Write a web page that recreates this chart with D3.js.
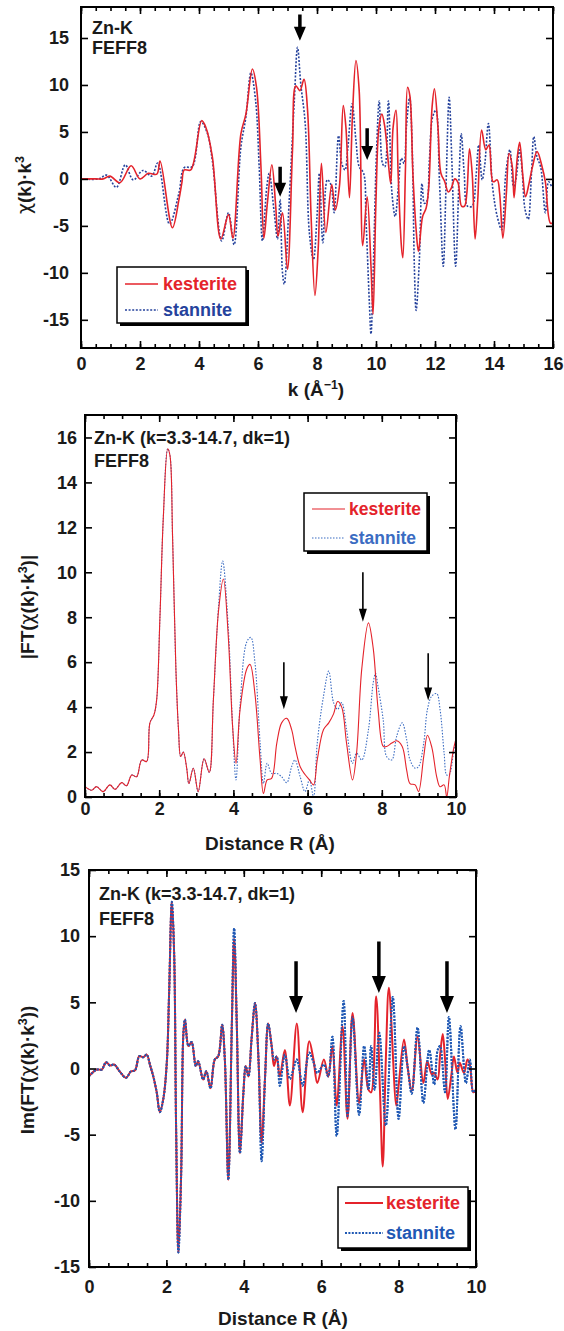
<!DOCTYPE html>
<html>
<head>
<meta charset="utf-8">
<script src="https://cdn.jsdelivr.net/npm/d3@7"></script>
<style>
  body { margin: 0; background: #fff; }
  text { font-family: "Liberation Sans", Arial, Helvetica, sans-serif; font-weight: bold; }
</style>
</head>
<body>
<svg id="fig" width="564" height="1331"></svg>
<script>
// ---- Zn-K EXAFS chi(k)*k^3, FEFF8 (k in 1/Å) ----
const chiKesterite = [[0,0],[0.5,0],[0.75,0],[0.98,0.3],[1.32,-0.4],[1.7,1.4],[2.0,0],[2.28,0.6],[2.57,0.5],[2.68,1.9],[3.1,-5.2],[3.32,-2.2],[3.42,-0.4],[3.5,0.95],[3.72,0.95],[4.09,6.2],[4.23,5.5],[4.45,2.4],[4.74,-6.4],[5.0,-3.8],[5.15,-6.3],[5.42,4.8],[5.59,6.9],[5.81,11.7],[5.95,9.75],[6.1,1.3],[6.2,-6.3],[6.32,-2.5],[6.47,1.5],[6.6,-2.9],[6.68,-6.1],[6.83,-3.6],[7.0,-9.6],[7.17,3.1],[7.28,9.9],[7.42,9.4],[7.56,10.6],[7.68,7.3],[7.8,-4],[7.93,-12.4],[8.04,-7.5],[8.15,1.65],[8.3,-5.7],[8.5,-0.6],[8.62,-3.3],[8.76,-0.8],[8.89,7.8],[8.98,5.5],[9.1,-2],[9.2,6.6],[9.32,12.6],[9.43,9.4],[9.55,-7.1],[9.7,-1.9],[9.83,-9.3],[9.9,-14.4],[10.0,-2.2],[10.1,5.5],[10.2,6.9],[10.3,5.5],[10.42,1.65],[10.5,-0.5],[10.58,5.5],[10.68,7.3],[10.75,0.6],[10.86,-7.1],[10.91,-8.4],[11.0,1.3],[11.07,9.75],[11.15,8.8],[11.25,0.6],[11.36,-5.4],[11.44,-7.7],[11.58,-4],[11.7,-3.1],[11.79,-0.8],[11.9,7.6],[11.98,9.6],[12.1,5.5],[12.2,0.6],[12.33,-0.3],[12.45,-1.4],[12.55,-1],[12.67,0],[12.78,-0.4],[12.9,-2.9],[13.0,-2.9],[13.08,-1.5],[13.17,3.2],[13.26,0.6],[13.36,-6.4],[13.45,-2.2],[13.58,5.2],[13.72,3.1],[13.83,3.6],[13.97,-0.3],[14.11,-0.1],[14.19,-1.5],[14.3,-6.3],[14.42,-1.5],[14.51,2.7],[14.62,1.3],[14.68,-2],[14.79,2.3],[14.87,3.9],[14.98,0.25],[15.07,-1.9],[15.18,-0.6],[15.29,1.1],[15.46,2.9],[15.63,1.3],[15.74,-0.3],[15.91,-4.7],[16,-4.7]];
const chiStannite = [[0,0],[0.6,0],[0.87,0.4],[1.2,-0.9],[1.5,1.5],[1.77,-0.1],[2.1,0.9],[2.4,0.3],[2.6,1.7],[3.0,-4.8],[3.32,-1.5],[3.5,1.2],[3.77,1.3],[4.06,6.1],[4.28,4.9],[4.45,2.0],[4.77,-6.6],[5.0,-3.6],[5.19,-7],[5.42,3.4],[5.59,6.6],[5.76,11.3],[5.92,8.3],[6.04,1.3],[6.15,-6.6],[6.3,-0.8],[6.38,0.6],[6.55,-3.6],[6.66,-6.4],[6.75,-2.2],[6.83,-10],[6.89,-11.2],[7.06,-2.2],[7.23,8.3],[7.34,14],[7.45,10.1],[7.6,5.9],[7.74,-5.7],[7.88,-8.6],[8.0,-4],[8.08,0.6],[8.2,-6.8],[8.35,-0.1],[8.47,-0.6],[8.58,-3.6],[8.73,4.6],[8.84,1.65],[8.95,0.95],[9.04,3.1],[9.19,8.0],[9.32,4.1],[9.43,1.3],[9.58,0.6],[9.66,-4.3],[9.77,-12.8],[9.83,-16.5],[9.91,-9.3],[10.02,3.1],[10.11,8.3],[10.22,1.65],[10.3,1.3],[10.42,8.3],[10.54,-1.5],[10.65,-4],[10.76,-0.8],[10.86,2.2],[10.95,1.65],[11.03,5.5],[11.14,8.7],[11.23,3.0],[11.3,-9.3],[11.36,-14],[11.47,-8.6],[11.56,-0.5],[11.64,-2.6],[11.72,-2.4],[11.81,2.0],[11.92,6.6],[12.03,7.3],[12.15,-0.1],[12.28,-9.3],[12.37,-1.2],[12.48,8.7],[12.57,2.0],[12.7,-9.3],[12.82,0.6],[12.89,4.8],[12.99,0.6],[13.1,-2.9],[13.26,-2.9],[13.39,0.25],[13.48,3.6],[13.6,-0.1],[13.68,1.3],[13.81,5.9],[13.95,-0.8],[14.11,-4],[14.26,-5.4],[14.4,0.6],[14.54,3.1],[14.66,-0.8],[14.74,-0.1],[14.87,3.1],[14.96,0.6],[15.05,-3.2],[15.16,-4.3],[15.27,0.6],[15.35,4.5],[15.46,2.3],[15.58,1.3],[15.74,-3.6],[15.85,-0.3],[15.95,-0.8]];

// ---- |FT| magnitude vs distance R (Å) ----
const ftMagKesterite = [[0,0.46],[0.18,0.3],[0.31,0.46],[0.49,0.24],[0.67,0.54],[0.81,0.34],[0.99,0.64],[1.12,0.5],[1.26,0.98],[1.39,0.9],[1.53,1.65],[1.66,1.58],[1.75,3.3],[1.86,3.66],[1.93,4.3],[2.02,8],[2.11,12.4],[2.23,15.5],[2.29,15.2],[2.36,11.6],[2.45,5.7],[2.52,3.0],[2.58,1.8],[2.65,2.0],[2.74,1.3],[2.8,0.6],[2.92,1.28],[3.05,0.24],[3.21,1.7],[3.35,1.1],[3.46,4.3],[3.6,8.3],[3.73,9.7],[3.86,7.2],[3.98,3.1],[4.07,1.5],[4.18,3.9],[4.36,5.7],[4.45,5.9],[4.58,4.6],[4.72,1.65],[4.81,0.16],[4.91,0.76],[5.03,0.83],[5.17,2.4],[5.3,3.3],[5.44,3.5],[5.57,3.0],[5.66,2.25],[5.8,1.35],[5.93,1.0],[6.05,0.76],[6.16,0.54],[6.26,1.65],[6.43,3.0],[6.57,3.3],[6.7,3.7],[6.81,4.25],[6.92,4.0],[7.05,2.4],[7.21,0.76],[7.32,1.95],[7.46,5.7],[7.64,7.75],[7.77,6.6],[7.9,3.9],[8.04,2.25],[8.13,2.25],[8.27,2.4],[8.4,2.5],[8.55,2.25],[8.67,1.2],[8.76,0.6],[8.9,0.54],[8.99,0.24],[9.13,1.8],[9.23,2.75],[9.35,2.2],[9.48,0.9],[9.57,0.46],[9.68,0.54],[9.75,0],[9.82,0.9],[9.93,2.1],[10,2.6]];
const ftMagStannite = [[0,0.46],[0.18,0.3],[0.31,0.46],[0.49,0.24],[0.67,0.54],[0.81,0.34],[0.99,0.64],[1.12,0.5],[1.26,0.98],[1.39,0.9],[1.53,1.65],[1.66,1.58],[1.75,3.3],[1.86,3.66],[1.93,4.3],[2.02,8],[2.11,12.4],[2.23,15.5],[2.29,15.2],[2.36,11.6],[2.45,5.7],[2.52,3.0],[2.58,1.8],[2.65,2.0],[2.74,1.3],[2.8,0.6],[2.92,1.28],[3.05,0.24],[3.21,1.7],[3.35,1.1],[3.46,4.3],[3.6,8.5],[3.71,10.5],[3.86,7.6],[3.98,3.1],[4.07,0.76],[4.18,4.1],[4.36,6.9],[4.47,7.1],[4.58,6.0],[4.72,2.4],[4.81,0.6],[4.91,1.5],[5.03,1.05],[5.17,1.05],[5.3,0.9],[5.44,0.64],[5.57,1.35],[5.66,1.65],[5.8,0.9],[5.93,0.24],[6.05,0.76],[6.16,0],[6.26,2.4],[6.43,4.5],[6.57,5.6],[6.7,4.2],[6.81,3.9],[6.92,4.2],[7.05,3.0],[7.21,1.5],[7.32,1.95],[7.46,1.65],[7.64,3.0],[7.77,5.1],[7.83,5.5],[7.9,4.9],[8.04,3.4],[8.13,1.8],[8.27,1.65],[8.4,2.7],[8.55,3.3],[8.67,2.55],[8.76,1.65],[8.9,1.28],[8.99,1.35],[9.13,2.4],[9.23,3.9],[9.35,4.5],[9.48,4.6],[9.57,3.9],[9.68,1.95],[9.75,0.98],[9.82,1.0],[9.93,1.95],[10,2.6]];

// ---- Im(FT) vs distance R (Å) ----
const ftImKesterite = [[0,-0.58],[0.2,-0.08],[0.33,-0.08],[0.44,0.48],[0.54,0.23],[0.65,0.3],[0.8,-0.25],[0.96,-0.7],[1.08,-0.23],[1.19,-0.13],[1.3,0.93],[1.4,0.85],[1.49,1.05],[1.58,0.23],[1.66,-0.58],[1.75,-1.8],[1.83,-3.3],[1.92,-2.3],[2.01,0.43],[2.07,5.7],[2.14,12.6],[2.2,8.7],[2.25,-4.3],[2.31,-13.9],[2.38,-8.1],[2.44,2.7],[2.48,3.7],[2.57,1.7],[2.65,2.0],[2.76,0.18],[2.82,0.55],[2.95,-0.83],[3.03,-0.2],[3.14,-1.5],[3.25,0.68],[3.34,0.93],[3.44,3.3],[3.51,0.68],[3.6,-8.4],[3.69,3.2],[3.75,9.8],[3.82,3.2],[3.9,-6.4],[3.99,-1.8],[4.05,0.18],[4.12,-0.6],[4.2,2.2],[4.29,4.95],[4.38,0.68],[4.46,-5.6],[4.55,-0.6],[4.63,3.4],[4.72,1.7],[4.78,0.18],[4.85,0.9],[4.93,-0.6],[5.06,1.4],[5.19,-2.8],[5.37,3.4],[5.52,-3.3],[5.69,2.05],[5.8,0.68],[5.9,-1.1],[6.07,0.68],[6.18,-0.6],[6.29,1.7],[6.4,-2.8],[6.55,3.2],[6.68,-3.8],[6.81,4.2],[6.98,-2.6],[7.11,0.68],[7.22,-1.6],[7.29,-1.8],[7.42,5.45],[7.52,-1.8],[7.59,-7.4],[7.67,0.68],[7.75,6.1],[7.94,-2.8],[8.0,-1.3],[8.14,2.2],[8.23,0.18],[8.34,-1.7],[8.49,2.4],[8.64,-1.1],[8.74,0.55],[8.86,-0.45],[8.92,-0.33],[9.01,-0.83],[9.07,0.93],[9.14,2.6],[9.2,0.68],[9.27,-2.3],[9.37,-0.33],[9.43,0.9],[9.52,-0.33],[9.58,0.43],[9.69,-0.33],[9.78,0.68],[9.84,0.3],[9.93,-1.8],[10,-1.6]];
const ftImStannite = [[0,-0.58],[0.2,-0.08],[0.33,-0.08],[0.44,0.48],[0.54,0.23],[0.65,0.3],[0.8,-0.25],[0.96,-0.7],[1.08,-0.23],[1.19,-0.13],[1.3,0.93],[1.4,0.85],[1.49,1.05],[1.58,0.23],[1.66,-0.58],[1.75,-1.8],[1.83,-3.3],[1.92,-2.3],[2.01,0.43],[2.07,5.7],[2.14,12.6],[2.2,8.7],[2.25,-4.3],[2.31,-13.9],[2.38,-8.1],[2.44,2.7],[2.48,3.7],[2.57,1.7],[2.65,2.0],[2.76,0.18],[2.82,0.55],[2.95,-0.83],[3.03,-0.2],[3.14,-1.5],[3.25,0.68],[3.34,0.93],[3.44,3.3],[3.51,0.68],[3.6,-8.4],[3.69,3.2],[3.75,10.6],[3.82,3.2],[3.9,-6.4],[3.99,-1.8],[4.05,0.18],[4.12,-0.6],[4.2,2.2],[4.29,4.95],[4.38,0.68],[4.46,-7],[4.55,-0.6],[4.63,3.4],[4.72,1.7],[4.78,0.68],[4.85,0.9],[4.93,-1.3],[5.06,1.05],[5.19,-0.8],[5.37,0.68],[5.52,-1.3],[5.69,1.2],[5.8,0.5],[5.9,-0.33],[6.07,0.3],[6.18,-0.6],[6.29,2.4],[6.4,-5.1],[6.58,5.1],[6.68,-3.6],[6.81,3.9],[6.98,-3.5],[7.11,1.7],[7.22,-1.6],[7.29,1.7],[7.38,-1.6],[7.5,2.7],[7.67,-4.3],[7.85,5.4],[8.0,-3.8],[8.14,1.7],[8.23,0.18],[8.34,-1.9],[8.49,3.1],[8.64,-2.6],[8.79,1.4],[8.92,-1.2],[9.01,1.4],[9.07,1.7],[9.2,-1.8],[9.3,3.9],[9.47,-4.6],[9.6,3.2],[9.74,-1.1],[9.84,0.68],[9.93,-1.8],[10,-1.6]];

// ---- axis ticks ----
const chiXTicks = [0, 2, 4, 6, 8, 10, 12, 14, 16];
const chiYTicks = [-15, -10, -5, 0, 5, 10, 15];
const rXTicks = [0, 2, 4, 6, 8, 10];
const magYTicks = [0, 2, 4, 6, 8, 10, 12, 14, 16];
const imYTicks = [-15, -10, -5, 0, 5, 10, 15];

// ---- annotation arrows: [x, tail value, tip value] ----
const chiArrows = [[7.42, 17.5, 14.7], [6.75, 1.3, -1.9], [9.7, 5.4, 2.0]];
const magArrows = [[5.36, 6.0, 3.9], [7.49, 10.0, 7.8], [9.25, 6.4, 4.3]];
const imArrows = [[5.35, 8.1, 4.2], [7.49, 9.6, 5.7], [9.25, 8.1, 4.2]];

const seriesNames = ["kesterite", "stannite"];
const RED = "#e4232b";
const INK = "#1a1a1a";

const svg = d3.select("#fig");
const fmt = d => String(d);

// Rich text: plain runs, Greek chi in a font with a proper glyph, superscripts
function richText(sel, parts, size) {
  parts.forEach(p => {
    const s = sel.append("tspan").text(p.t);
    if (p.greek) s.style("font-family", '"DejaVu Sans", sans-serif').style("font-weight", "normal");
    if (p.sup) s.attr("dy", -7).style("font-size", (size * 0.65) + "px");
    if (p.after) s.attr("dy", 7);
  });
}

function drawPanel(c) {
  const x = d3.scaleLinear().domain(c.xDomain).range([c.left, c.right]);
  const y = d3.scaleLinear().domain(c.yDomain).range([c.bottom, c.top]);
  const g = svg.append("g");
  const clipId = "clip" + c.id;
  g.append("clipPath").attr("id", clipId).append("rect")
    .attr("x", c.left).attr("y", c.top)
    .attr("width", c.right - c.left).attr("height", c.bottom - c.top);

  const line = d3.line().x(d => x(d[0])).y(d => y(d[1])).curve(d3.curveCatmullRom.alpha(0.5));

  const plot = g.append("g").attr("clip-path", `url(#${clipId})`);
  const drawBlue = () => plot.append("path").datum(c.blue).attr("d", line)
    .attr("fill", "none").attr("stroke", c.blueColor).attr("stroke-width", c.lw)
    .attr("stroke-dasharray", c.dash);
  drawBlue();
  plot.append("path").datum(c.red).attr("d", line)
    .attr("fill", "none").attr("stroke", RED).attr("stroke-width", c.lw);
  if (c.blueOnTop) drawBlue();

  // ticks (inward on all four sides)
  const minorX = d3.range(c.xDomain[0], c.xDomain[1] + 1e-9, 0.5);
  const styleAxis = sel => {
    sel.select(".domain").remove();
    sel.selectAll(".tick line").attr("stroke", "#000").attr("stroke-width", 1.6);
    sel.selectAll(".tick text").attr("fill", INK).style("font-size", c.tickFont + "px")
      .style("font-family", '"Liberation Sans", Arial, sans-serif').style("font-weight", "bold");
  };
  g.append("g").attr("transform", `translate(0,${c.bottom})`)
    .call(d3.axisBottom(x).tickValues(minorX).tickFormat("").tickSize(-4)).call(styleAxis);
  g.append("g").attr("transform", `translate(0,${c.top})`)
    .call(d3.axisTop(x).tickValues(minorX).tickFormat("").tickSize(-4)).call(styleAxis);
  g.append("g").attr("transform", `translate(0,${c.bottom})`)
    .call(d3.axisBottom(x).tickValues(c.xTicks).tickFormat(fmt).tickSize(-7).tickPadding(c.xPad)).call(styleAxis);
  g.append("g").attr("transform", `translate(0,${c.top})`)
    .call(d3.axisTop(x).tickValues(c.xTicks).tickFormat("").tickSize(-7)).call(styleAxis);
  g.append("g").attr("transform", `translate(${c.left},0)`)
    .call(d3.axisLeft(y).tickValues(c.yTicks).tickFormat(fmt).tickSize(-7).tickPadding(c.yPad)).call(styleAxis);
  g.append("g").attr("transform", `translate(${c.right},0)`)
    .call(d3.axisRight(y).tickValues(c.yTicks).tickFormat("").tickSize(-7)).call(styleAxis);

  g.append("rect").attr("x", c.left).attr("y", c.top)
    .attr("width", c.right - c.left).attr("height", c.bottom - c.top)
    .attr("fill", "none").attr("stroke", "#000").attr("stroke-width", 2);

  // arrows
  c.arrows.forEach(([ax, v0, v1]) => {
    const px = x(ax), yt = y(v0), yp = y(v1);
    const a = c.arrow;
    const yb = yp - a.headL;
    g.append("path")
      .attr("d", `M${px - a.shaft / 2},${yt} L${px + a.shaft / 2},${yt} L${px + a.shaft / 2},${yb} L${px + a.headW / 2},${yb} L${px},${yp} L${px - a.headW / 2},${yb} L${px - a.shaft / 2},${yb} Z`)
      .attr("fill", "#000");
  });

  // corner labels
  c.corner.forEach((t, i) => {
    g.append("text").attr("x", c.left + c.cornerDx).attr("y", c.top + c.cornerDy[i])
      .style("font-size", c.cornerFont + "px").attr("fill", INK).text(t);
  });

  // axis titles
  const xt = g.append("text").attr("x", c.xTitle.x).attr("y", c.xTitle.y)
    .attr("text-anchor", "middle").style("font-size", c.titleFont + "px").attr("fill", INK);
  richText(xt, c.xTitle.parts, c.titleFont);
  const yt = g.append("text").attr("transform", `translate(${c.yTitle.x},${c.yTitle.y}) rotate(-90)`)
    .attr("text-anchor", "middle").style("font-size", c.titleFont + "px").attr("fill", INK);
  richText(yt, c.yTitle.parts, c.titleFont);

  // legend with drop shadow
  const L = c.legend;
  g.append("rect").attr("x", L.x + 3).attr("y", L.y + 3).attr("width", L.w).attr("height", L.h).attr("fill", "#000");
  g.append("rect").attr("x", L.x).attr("y", L.y).attr("width", L.w).attr("height", L.h)
    .attr("fill", "#fff").attr("stroke", "#000").attr("stroke-width", 1.5);
  seriesNames.forEach((name, i) => {
    const ry = L.y + L.rows[i];
    const col = i === 0 ? RED : c.blueColor;
    g.append("line").attr("x1", L.x + L.l0).attr("x2", L.x + L.l1).attr("y1", ry).attr("y2", ry)
      .attr("stroke", col).attr("stroke-width", c.lw).attr("stroke-dasharray", i === 0 ? null : c.dash);
    g.append("text").attr("x", L.x + L.tx).attr("y", ry).attr("dy", "0.35em")
      .style("font-size", L.font + "px").attr("fill", col).text(name);
  });
}

// Panel 1: chi(k)*k^3
drawPanel({
  id: 1, left: 81, right: 553, top: 7, bottom: 348,
  xDomain: [0, 16], yDomain: [-18, 18.3], xTicks: chiXTicks, yTicks: chiYTicks,
  red: chiKesterite, blue: chiStannite, blueColor: "#25429c", lw: 1.6, dash: "2,1.6",
  blueOnTop: false,
  tickFont: 18, xPad: 9, yPad: 12, titleFont: 19,
  arrows: chiArrows, arrow: { shaft: 3.5, headW: 12, headL: 14 },
  corner: ["Zn-K", "FEFF8"], cornerDx: 11, cornerDy: [27, 47], cornerFont: 18,
  xTitle: { x: 316, y: 396, parts: [{ t: "k (Å" }, { t: "−1", sup: true }, { t: ")", after: true }] },
  yTitle: { x: 31, y: 185, parts: [{ t: "χ", greek: true }, { t: "(k)·k" }, { t: "3", sup: true }] },
  legend: { x: 117, y: 267, w: 129, h: 56, rows: [17, 43], l0: 8, l1: 41, tx: 46, font: 18 }
});

// Panel 2: |FT|
drawPanel({
  id: 2, left: 85, right: 456, top: 415, bottom: 797,
  xDomain: [0, 10], yDomain: [0, 17], xTicks: rXTicks, yTicks: magYTicks,
  red: ftMagKesterite, blue: ftMagStannite, blueColor: "#3b6cc2", lw: 1.1, dash: "1.5,1.5",
  blueOnTop: false,
  tickFont: 18, xPad: 5, yPad: 8, titleFont: 19,
  arrows: magArrows, arrow: { shaft: 1.6, headW: 8, headL: 13 },
  corner: ["Zn-K (k=3.3-14.7, dk=1)", "FEFF8"], cornerDx: 9, cornerDy: [29, 52], cornerFont: 18,
  xTitle: { x: 270, y: 850, parts: [{ t: "Distance R (Å)" }] },
  yTitle: { x: 34, y: 607, parts: [{ t: "|FT(" }, { t: "χ", greek: true }, { t: "(k)·k" }, { t: "3", sup: true }, { t: ")|", after: true }] },
  legend: { x: 304, y: 493, w: 123, h: 58, rows: [16, 45], l0: 8, l1: 41, tx: 45, font: 17.5 }
});

// Panel 3: Im(FT)
drawPanel({
  id: 3, left: 89, right: 476, top: 870, bottom: 1267,
  xDomain: [0, 10], yDomain: [-15, 15], xTicks: rXTicks, yTicks: imYTicks,
  red: ftImKesterite, blue: ftImStannite, blueColor: "#1f58b4", lw: 2, dash: "2,1.4",
  blueOnTop: true,
  tickFont: 18, xPad: 13, yPad: 9, titleFont: 19,
  arrows: imArrows, arrow: { shaft: 3.5, headW: 14, headL: 17 },
  corner: ["Zn-K (k=3.3-14.7, dk=1)", "FEFF8"], cornerDx: 10, cornerDy: [30, 55], cornerFont: 18,
  xTitle: { x: 283, y: 1325, parts: [{ t: "Distance R (Å)" }] },
  yTitle: { x: 34, y: 1070, parts: [{ t: "Im(FT(" }, { t: "χ", greek: true }, { t: "(k)·k" }, { t: "3", sup: true }, { t: "))", after: true }] },
  legend: { x: 338, y: 1187, w: 130, h: 61, rows: [16, 46], l0: 7, l1: 45, tx: 48, font: 18 }
});
</script>
</body>
</html>
